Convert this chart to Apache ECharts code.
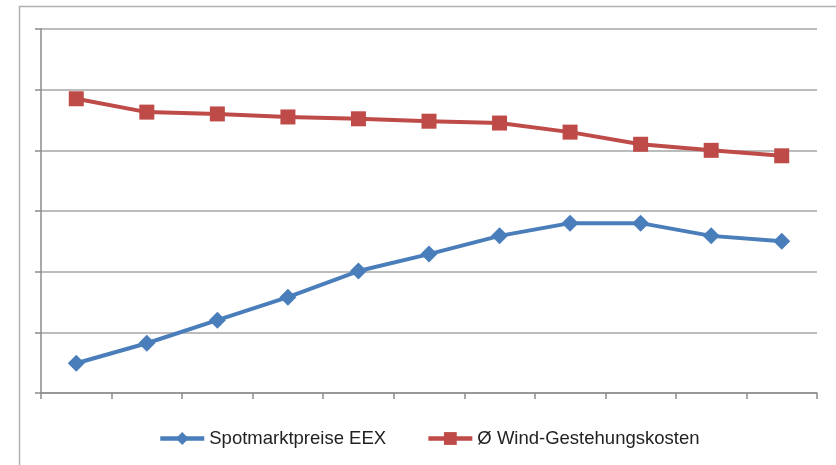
<!DOCTYPE html>
<html>
<head>
<meta charset="utf-8">
<script src="https://cdn.jsdelivr.net/npm/echarts@6/dist/echarts.min.js"></script>
<style>
html,body{margin:0;padding:0;background:#fff;}
#c{width:836px;height:465px;}
</style>
</head>
<body>
<div id="c"></div>
<script>
// Data (no axis labels in the original; values in arbitrary units)
const categories = ['1','2','3','4','5','6','7','8','9','10','11'];
const spotName = 'Spotmarktpreise EEX';
const windName = 'Ø Wind-Gestehungskosten';
const spotValues = [0.49, 0.82, 1.20, 1.58, 2.01, 2.29, 2.59, 2.80, 2.80, 2.59, 2.50];
const windValues = [4.85, 4.63, 4.60, 4.55, 4.52, 4.48, 4.45, 4.30, 4.10, 4.00, 3.91];
const yMin = 0, yMax = 6, yInterval = 1;

const chart = echarts.init(document.getElementById('c'), null, {renderer: 'canvas'});
const gridColor = '#a6a6a6';
const axisColor = '#8c8c8c';
chart.setOption({
  animation: false,
  backgroundColor: '#ffffff',
  graphic: [{
    type: 'rect',
    shape: {x: 19.5, y: 6.5, width: 900, height: 600},
    style: {fill: 'none', stroke: '#b0b0b0', lineWidth: 1.5},
    silent: true
  }],
  grid: {left: 41, top: 29, right: 19, bottom: 72, containLabel: false},
  legend: {
    left: 153, top: 424,
    itemWidth: 44, itemHeight: 16, itemGap: 40,
    lineStyle: {width: 4.5},
    textStyle: {fontFamily: 'Liberation Sans', fontSize: 18.5, color: '#222'},
    data: [spotName, windName]
  },
  xAxis: {
    type: 'category',
    data: categories,
    boundaryGap: true,
    axisLine: {lineStyle: {color: axisColor, width: 1.5}},
    axisTick: {show: true, length: 6, inside: false, lineStyle: {color: axisColor, width: 1.5}},
    axisLabel: {show: false},
    splitLine: {show: false}
  },
  yAxis: {
    type: 'value',
    min: yMin, max: yMax, interval: yInterval,
    axisLine: {show: true, lineStyle: {color: axisColor, width: 1.5}},
    axisTick: {show: true, length: 6, lineStyle: {color: axisColor, width: 1.5}},
    axisLabel: {show: false},
    splitLine: {show: true, lineStyle: {color: gridColor, width: 1.5}}
  },
  series: [
    {
      name: spotName, type: 'line', data: spotValues,
      symbol: 'diamond', symbolSize: [17, 17],
      lineStyle: {color: '#4a7ebb', width: 4},
      itemStyle: {color: '#4a7ebb'}
    },
    {
      name: windName, type: 'line', data: windValues,
      symbol: 'rect', symbolSize: 15,
      lineStyle: {color: '#be4b48', width: 4},
      itemStyle: {color: '#be4b48'}
    }
  ]
});
</script>
</body>
</html>
